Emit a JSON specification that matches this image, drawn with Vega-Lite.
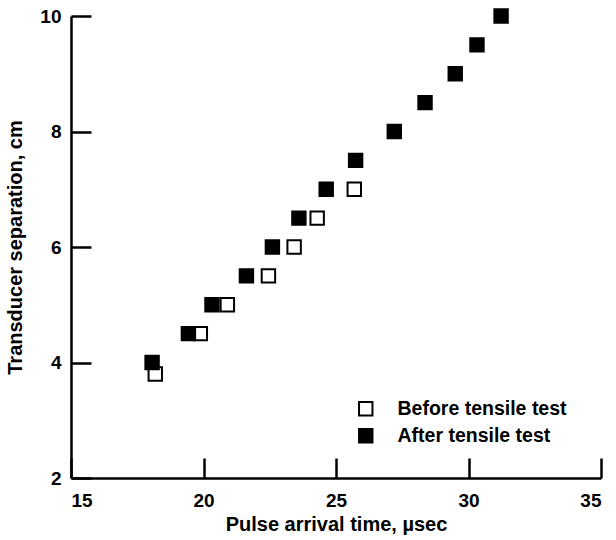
{
  "$schema": "https://vega.github.io/schema/vega-lite/v6.json",
  "width": 530,
  "height": 462,
  "autosize": "none",
  "padding": {"left": 71, "top": 16, "right": 15, "bottom": 62},
  "background": "white",
  "config": {
    "view": {"stroke": null},
    "font": "Liberation Sans",
    "axis": {
      "domainColor": "black",
      "domainWidth": 2.5,
      "tickColor": "black",
      "tickWidth": 2.5,
      "tickSize": -20,
      "grid": false,
      "labelFont": "Liberation Sans",
      "labelFontWeight": "bold",
      "labelFontSize": 19,
      "labelColor": "black",
      "titleFont": "Liberation Sans",
      "titleFontWeight": "bold",
      "titleFontSize": 20,
      "titleColor": "black"
    }
  },
  "data": {
    "values": [
      {"series": "Before tensile test", "time": 18.18, "sep": 3.8},
      {"series": "Before tensile test", "time": 19.88, "sep": 4.5},
      {"series": "Before tensile test", "time": 20.9, "sep": 5.0},
      {"series": "Before tensile test", "time": 22.45, "sep": 5.5},
      {"series": "Before tensile test", "time": 23.42, "sep": 6.0},
      {"series": "Before tensile test", "time": 24.29, "sep": 6.5},
      {"series": "Before tensile test", "time": 25.69, "sep": 7.0},
      {"series": "After tensile test", "time": 18.06, "sep": 4.0},
      {"series": "After tensile test", "time": 19.43, "sep": 4.5},
      {"series": "After tensile test", "time": 20.32, "sep": 5.0},
      {"series": "After tensile test", "time": 21.62, "sep": 5.5},
      {"series": "After tensile test", "time": 22.6, "sep": 6.0},
      {"series": "After tensile test", "time": 23.6, "sep": 6.5},
      {"series": "After tensile test", "time": 24.63, "sep": 7.0},
      {"series": "After tensile test", "time": 25.74, "sep": 7.5},
      {"series": "After tensile test", "time": 27.2, "sep": 8.0},
      {"series": "After tensile test", "time": 28.36, "sep": 8.5},
      {"series": "After tensile test", "time": 29.5, "sep": 9.0},
      {"series": "After tensile test", "time": 30.32, "sep": 9.5},
      {"series": "After tensile test", "time": 31.23, "sep": 10.0}
    ]
  },
  "mark": {"type": "point", "shape": "square", "filled": true, "stroke": "black", "strokeWidth": 2, "size": 180, "opacity": 1},
  "encoding": {
    "x": {
      "field": "time", "type": "quantitative",
      "scale": {"domain": [15, 35], "nice": false, "zero": false},
      "axis": {"values": [15, 20, 25, 30, 35], "title": "Pulse arrival time, µsec", "labelPadding": 33, "titleY": 52, "titleBaseline": "alphabetic"}
    },
    "y": {
      "field": "sep", "type": "quantitative",
      "scale": {"domain": [2, 10], "nice": false, "zero": false},
      "axis": {"values": [2, 4, 6, 8, 10], "title": "Transducer separation, cm", "labelPadding": 30, "titleX": -50, "titleBaseline": "alphabetic"}
    },
    "fill": {
      "field": "series", "type": "nominal",
      "scale": {"domain": ["Before tensile test", "After tensile test"], "range": ["white", "black"]},
      "legend": {
        "title": null,
        "orient": "none",
        "legendX": 285,
        "legendY": 383,
        "padding": 0,
        "symbolType": "square",
        "symbolSize": 180,
        "symbolStrokeColor": "black",
        "symbolStrokeWidth": 2,
        "labelFont": "Liberation Sans",
        "labelFontWeight": "bold",
        "labelFontSize": 19.5,
        "labelColor": "black",
        "labelOffset": 22,
        "labelLimit": 400,
        "rowPadding": 5
      }
    }
  }
}
